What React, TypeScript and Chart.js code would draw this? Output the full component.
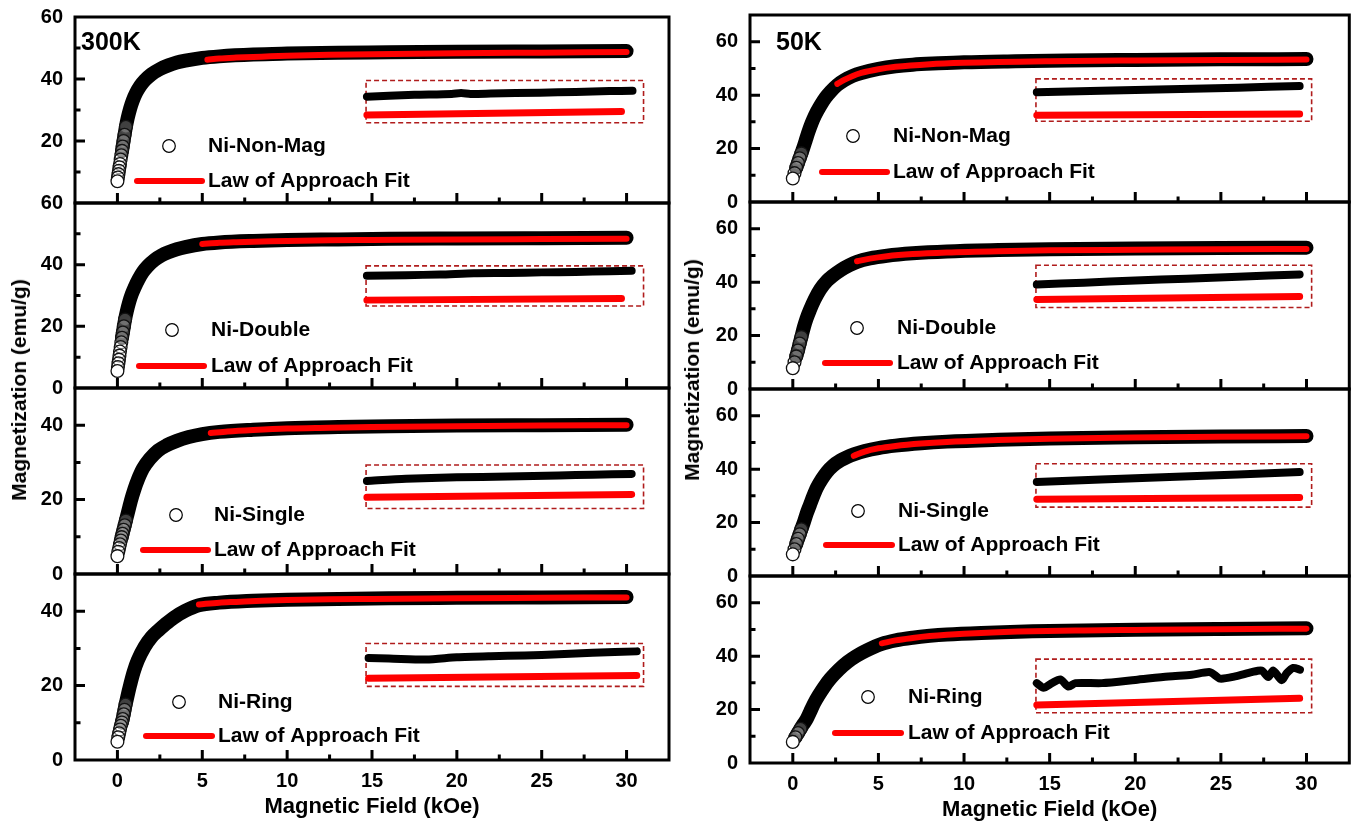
import React, { useEffect, useRef } from "react";
import { Chart, registerables } from "chart.js";
Chart.register(...registerables);

const FONT = "'Liberation Sans', Arial, Helvetica, sans-serif";

// ---------------- data ----------------
const X_MIN = -2.5;
const X_MAX = 32.5;
const X_TICKS = [0, 5, 10, 15, 20, 25, 30];
const X_MINOR = [2.5, 7.5, 12.5, 17.5, 22.5, 27.5];

// 300 K — Ni-Non-Mag
const L1_FIELD = [0, 0.03, 0.06, 0.09, 0.12, 0.15, 0.19, 0.23, 0.27, 0.31, 0.36, 0.42, 0.5, 0.6, 0.75, 0.9, 1.1, 1.35, 1.6, 2.0, 2.5, 3.0, 3.5, 4.0, 5.0, 6.0, 8.0, 10, 13, 16, 20, 25, 30];
const L1_M = [7, 8.2, 9.3, 10.4, 11.5, 12.6, 14, 15.4, 16.8, 18.2, 20, 22, 24.6, 27.3, 30.5, 33, 35.5, 37.8, 39.5, 41.5, 43.2, 44.4, 45.3, 45.9, 46.8, 47.3, 47.9, 48.2, 48.5, 48.6, 48.8, 48.9, 49.0];
const L1_FIT_FIELD = [5.3, 6, 7, 8.5, 10, 12.5, 15, 20, 25, 30];
const L1_FIT_M = [46.2, 46.6, 46.9, 47.2, 47.5, 47.8, 48.0, 48.3, 48.5, 48.7];
const L1_INSET_FIELD = [14.7, 16, 17.5, 19.7, 20.25, 20.8, 22, 24.9, 27, 29, 30.35];
const L1_INSET_M = [34.3, 34.6, 34.9, 35.2, 35.5, 35.2, 35.3, 35.6, 35.8, 36.1, 36.2];
const L1_INSET_FIT_FIELD = [14.7, 29.7];
const L1_INSET_FIT_M = [28.4, 29.5];
const L1_BOX = [14.65, 31.0, 25.9, 39.5];

// 300 K — Ni-Double
const L2_FIELD = [0, 0.03, 0.06, 0.09, 0.12, 0.15, 0.19, 0.23, 0.27, 0.32, 0.38, 0.45, 0.55, 0.7, 0.85, 1.0, 1.25, 1.5, 1.8, 2.2, 2.6, 3.0, 3.5, 4.0, 5.0, 6.0, 8.0, 10, 13, 16, 20, 25, 30];
const L2_M = [5.5, 6.8, 8.0, 9.2, 10.5, 11.8, 13.3, 14.8, 16.3, 18.0, 20.0, 22.2, 24.8, 28.0, 30.5, 32.5, 35.3, 37.6, 39.6, 41.6, 43.0, 44.0, 45.0, 45.7, 46.7, 47.2, 47.7, 48.0, 48.2, 48.4, 48.5, 48.6, 48.7];
const L2_FIT_FIELD = [5.0, 6, 7, 8.5, 10, 12.5, 15, 20, 25, 30];
const L2_FIT_M = [46.7, 47.1, 47.3, 47.5, 47.7, 47.9, 48.0, 48.2, 48.3, 48.4];
const L2_INSET_FIELD = [14.7, 17, 19, 21, 23, 25, 27, 29, 30.3];
const L2_INSET_M = [36.4, 36.6, 36.8, 37.2, 37.3, 37.5, 37.6, 37.9, 38.0];
const L2_INSET_FIT_FIELD = [14.7, 29.7];
const L2_INSET_FIT_M = [28.5, 29.0];
const L2_BOX = [14.65, 31.0, 26.6, 39.6];

// 300 K — Ni-Single
const L3_FIELD = [0, 0.05, 0.1, 0.15, 0.2, 0.25, 0.3, 0.36, 0.43, 0.5, 0.6, 0.7, 0.8, 1.0, 1.2, 1.5, 1.9, 2.4, 2.9, 3.5, 4.2, 5.0, 6.0, 8.0, 10, 13, 16, 20, 25, 30];
const L3_M = [4.8, 6.0, 7.0, 8.0, 9.0, 9.9, 10.8, 11.9, 13.1, 14.4, 16.2, 18.0, 19.8, 22.8, 25.3, 28.3, 30.9, 33.2, 34.6, 35.8, 36.8, 37.6, 38.2, 38.8, 39.2, 39.5, 39.7, 39.9, 40.0, 40.1];
const L3_FIT_FIELD = [5.5, 6.5, 8, 10, 12.5, 15, 20, 25, 30];
const L3_FIT_M = [37.9, 38.3, 38.7, 39.1, 39.3, 39.5, 39.7, 39.9, 40.0];
const L3_INSET_FIELD = [14.7, 17, 20, 23, 26, 28, 30.3];
const L3_INSET_M = [25.0, 25.6, 26.0, 26.2, 26.5, 26.7, 26.9];
const L3_INSET_FIT_FIELD = [14.7, 30.3];
const L3_INSET_FIT_M = [20.6, 21.4];
const L3_BOX = [14.65, 31.0, 17.6, 29.3];

// 300 K — Ni-Ring
const L4_FIELD = [0, 0.05, 0.1, 0.15, 0.2, 0.26, 0.31, 0.37, 0.42, 0.48, 0.55, 0.65, 0.75, 0.95, 1.2, 1.6, 2.0, 2.4, 2.8, 3.3, 4.0, 4.8, 6.0, 8.0, 10, 13, 16, 20, 25, 30];
const L4_M = [4.9, 6.1, 7.2, 8.2, 9.2, 10.1, 11.0, 12.3, 13.5, 14.9, 16.3, 18.3, 20.2, 23.6, 26.8, 30.4, 33.0, 34.8, 36.4, 38.2, 40.1, 41.6, 42.3, 42.8, 43.1, 43.3, 43.5, 43.6, 43.7, 43.8];
const L4_FIT_FIELD = [4.8, 6, 7, 8.5, 10, 12.5, 15, 20, 25, 30];
const L4_FIT_M = [41.8, 42.3, 42.5, 42.8, 43.0, 43.2, 43.3, 43.5, 43.6, 43.7];
const L4_INSET_FIELD = [14.8, 16, 18.2, 20, 22, 24, 26, 28, 30.6];
const L4_INSET_M = [27.4, 27.3, 27.0, 27.6, 27.9, 28.1, 28.4, 28.8, 29.2];
const L4_INSET_FIT_FIELD = [14.8, 30.6];
const L4_INSET_FIT_M = [22.0, 22.7];
const L4_BOX = [14.65, 31.0, 19.8, 31.3];

// 50 K — Ni-Non-Mag
const R1_FIELD = [0, 0.1, 0.2, 0.3, 0.4, 0.5, 0.6, 0.75, 0.9, 1.1, 1.3, 1.6, 1.9, 2.2, 2.6, 3.0, 3.5, 4.0, 5.0, 6.0, 7.0, 8.5, 10, 13, 16, 20, 25, 30];
const R1_M = [8.8, 10.8, 12.8, 14.6, 16.4, 18.2, 20, 23, 26, 29.5, 32.5, 36, 39, 41.3, 43.8, 45.6, 47.2, 48.3, 49.8, 50.8, 51.4, 51.9, 52.3, 52.7, 53.0, 53.2, 53.4, 53.5];
const R1_FIT_FIELD = [2.6, 3.0, 3.5, 4.0, 5.0, 6.0, 8.0, 10, 15, 20, 25, 30];
const R1_FIT_M = [44.2, 45.7, 47.2, 48.3, 49.7, 50.6, 51.6, 52.1, 52.7, 53.0, 53.2, 53.3];
const R1_INSET_FIELD = [14.25, 18, 22, 26, 29.6];
const R1_INSET_M = [41.1, 41.6, 42.2, 42.8, 43.4];
const R1_INSET_FIT_FIELD = [14.25, 29.6];
const R1_INSET_FIT_M = [32.5, 32.9];
const R1_BOX = [14.2, 30.3, 30.2, 46.1];

// 50 K — Ni-Double
const R2_FIELD = [0, 0.1, 0.2, 0.3, 0.4, 0.5, 0.65, 0.8, 1.0, 1.27, 1.6, 2.0, 2.3, 2.8, 3.3, 3.75, 4.5, 5.5, 7.0, 9.0, 12, 15, 20, 25, 30];
const R2_M = [7.8, 10.0, 12.2, 14.4, 17.0, 19.5, 23.2, 26.3, 29.6, 33.5, 37.3, 40.5, 42.2, 44.5, 46.3, 47.6, 48.9, 49.9, 50.8, 51.5, 52.0, 52.3, 52.6, 52.8, 52.9];
const R2_FIT_FIELD = [3.75, 4.5, 5.5, 7.0, 9.0, 12, 15, 20, 25, 30];
const R2_FIT_M = [47.8, 48.8, 49.7, 50.5, 51.1, 51.6, 51.9, 52.1, 52.3, 52.4];
const R2_INSET_FIELD = [14.25, 17, 20, 23, 26, 29.6];
const R2_INSET_M = [39.1, 39.8, 40.6, 41.3, 42.0, 42.9];
const R2_INSET_FIT_FIELD = [14.25, 29.6];
const R2_INSET_FIT_M = [33.5, 34.6];
const R2_BOX = [14.2, 30.3, 30.5, 46.3];

// 50 K — Ni-Single
const R3_FIELD = [0, 0.1, 0.2, 0.3, 0.4, 0.5, 0.64, 0.8, 1.0, 1.2, 1.4, 1.7, 2.0, 2.33, 2.8, 3.2, 3.6, 4.2, 5.0, 6.0, 7.5, 9.0, 12, 15, 20, 25, 30];
const R3_M = [8.1, 10.0, 12.0, 13.9, 15.6, 17.5, 20.0, 23.2, 26.6, 30.0, 33.0, 36.3, 39.0, 41.2, 43.3, 44.6, 45.6, 46.8, 47.9, 48.8, 49.7, 50.3, 51.0, 51.5, 51.9, 52.2, 52.4];
const R3_FIT_FIELD = [3.56, 4.2, 5.0, 6.0, 7.5, 9.0, 12, 15, 20, 25, 30];
const R3_FIT_M = [45.0, 46.6, 47.8, 48.7, 49.6, 50.2, 50.9, 51.4, 51.8, 52.1, 52.3];
const R3_INSET_FIELD = [14.25, 18, 22, 26, 29.6];
const R3_INSET_M = [35.2, 36.1, 37.1, 38.0, 38.9];
const R3_INSET_FIT_FIELD = [14.25, 29.6];
const R3_INSET_FIT_M = [28.7, 29.4];
const R3_BOX = [14.2, 30.3, 25.8, 42.0];

// 50 K — Ni-Ring
const R4_FIELD = [0, 0.15, 0.3, 0.45, 0.6, 0.8, 1.0, 1.25, 1.5, 1.8, 2.2, 2.7, 3.2, 3.7, 4.3, 5.2, 6.0, 7.0, 8.0, 9.0, 11, 14, 17, 20, 25, 30];
const R4_M = [7.9, 9.6, 11.2, 12.8, 14.4, 16.3, 19.0, 22.4, 25.2, 28.2, 31.6, 35.0, 37.8, 40.0, 42.1, 44.6, 45.9, 46.9, 47.6, 48.1, 48.7, 49.3, 49.6, 49.9, 50.2, 50.4];
const R4_FIT_FIELD = [5.2, 6, 7, 8, 9, 11, 14, 17, 20, 25, 30];
const R4_FIT_M = [44.8, 45.9, 46.8, 47.5, 48.0, 48.7, 49.3, 49.6, 49.8, 50.1, 50.3];
const R4_INSET_FIELD = [14.25, 14.64, 15.13, 15.62, 16.1, 16.5, 18.05, 20.0, 21.94, 23.3, 24.37, 24.95, 25.83, 26.8, 27.38, 27.77, 28.06, 28.55, 28.84, 29.23, 29.62];
const R4_INSET_M = [29.9, 28.2, 29.9, 31.3, 28.6, 29.9, 29.9, 31.1, 32.4, 33.0, 34.0, 31.6, 32.4, 34.0, 34.6, 32.2, 34.6, 31.0, 33.6, 35.6, 34.9];
const R4_INSET_FIT_FIELD = [14.25, 29.6];
const R4_INSET_FIT_M = [21.7, 24.2];
const R4_BOX = [14.2, 30.3, 18.8, 38.9];

const SAMPLE_NAMES = ["Ni-Non-Mag", "Ni-Double", "Ni-Single", "Ni-Ring"];
const FIT_NAME = "Law of Approach Fit";

// ---------------- layout ----------------
type Legend = { cx: number; cy: number; tx: number; lx1: number; lx2: number; ly: number };
type Spec = {
  canvasLeft: number; canvasWidth: number; areaLeft: number; areaRight: number;
  top: number; bottom: number; isBottom: boolean; yMax: number;
  yLabels: number[]; yMajor: number[]; yMinor: number[];
  field: number[]; m: number[]; fitField: number[]; fitM: number[];
  insetField: number[]; insetM: number[]; insetFitField: number[]; insetFitM: number[];
  box: number[]; name: string; legend: Legend; temp?: { text: string; dx: number; dy: number };
};

const LEFT = { canvasLeft: 0, canvasWidth: 680, areaLeft: 75, areaRight: 669 };
const RIGHT = { canvasLeft: 680, canvasWidth: 677, areaLeft: 750, areaRight: 1352 };

const SPECS: Spec[] = [
  { ...LEFT, top: 17, bottom: 203, isBottom: false, yMax: 60, yLabels: [20, 40, 60], yMajor: [20, 40], yMinor: [10, 30, 50],
    field: L1_FIELD, m: L1_M, fitField: L1_FIT_FIELD, fitM: L1_FIT_M, insetField: L1_INSET_FIELD, insetM: L1_INSET_M,
    insetFitField: L1_INSET_FIT_FIELD, insetFitM: L1_INSET_FIT_M, box: L1_BOX, name: SAMPLE_NAMES[0],
    legend: { cx: 94, cy: 129, tx: 133, lx1: 62, lx2: 127, ly: 164 }, temp: { text: "300K", dx: 6, dy: 26 } },
  { ...LEFT, top: 203, bottom: 388, isBottom: false, yMax: 60, yLabels: [0, 20, 40, 60], yMajor: [20, 40], yMinor: [10, 30, 50],
    field: L2_FIELD, m: L2_M, fitField: L2_FIT_FIELD, fitM: L2_FIT_M, insetField: L2_INSET_FIELD, insetM: L2_INSET_M,
    insetFitField: L2_INSET_FIT_FIELD, insetFitM: L2_INSET_FIT_M, box: L2_BOX, name: SAMPLE_NAMES[1],
    legend: { cx: 97, cy: 127, tx: 136, lx1: 64, lx2: 129, ly: 163 } },
  { ...LEFT, top: 388, bottom: 574, isBottom: false, yMax: 50, yLabels: [0, 20, 40], yMajor: [20, 40], yMinor: [10, 30],
    field: L3_FIELD, m: L3_M, fitField: L3_FIT_FIELD, fitM: L3_FIT_M, insetField: L3_INSET_FIELD, insetM: L3_INSET_M,
    insetFitField: L3_INSET_FIT_FIELD, insetFitM: L3_INSET_FIT_M, box: L3_BOX, name: SAMPLE_NAMES[2],
    legend: { cx: 101, cy: 127, tx: 139, lx1: 68, lx2: 133, ly: 162 } },
  { ...LEFT, top: 574, bottom: 760, isBottom: true, yMax: 50, yLabels: [0, 20, 40], yMajor: [20, 40], yMinor: [10, 30],
    field: L4_FIELD, m: L4_M, fitField: L4_FIT_FIELD, fitM: L4_FIT_M, insetField: L4_INSET_FIELD, insetM: L4_INSET_M,
    insetFitField: L4_INSET_FIT_FIELD, insetFitM: L4_INSET_FIT_M, box: L4_BOX, name: SAMPLE_NAMES[3],
    legend: { cx: 104, cy: 128, tx: 143, lx1: 71, lx2: 137, ly: 162 } },
  { ...RIGHT, top: 15, bottom: 202, isBottom: false, yMax: 70, yLabels: [0, 20, 40, 60], yMajor: [20, 40, 60], yMinor: [10, 30, 50],
    field: R1_FIELD, m: R1_M, fitField: R1_FIT_FIELD, fitM: R1_FIT_M, insetField: R1_INSET_FIELD, insetM: R1_INSET_M,
    insetFitField: R1_INSET_FIT_FIELD, insetFitM: R1_INSET_FIT_M, box: R1_BOX, name: SAMPLE_NAMES[0],
    legend: { cx: 103, cy: 121, tx: 143, lx1: 72, lx2: 137, ly: 157 }, temp: { text: "50K", dx: 26, dy: 28 } },
  { ...RIGHT, top: 202, bottom: 389, isBottom: false, yMax: 70, yLabels: [0, 20, 40, 60], yMajor: [20, 40, 60], yMinor: [10, 30, 50],
    field: R2_FIELD, m: R2_M, fitField: R2_FIT_FIELD, fitM: R2_FIT_M, insetField: R2_INSET_FIELD, insetM: R2_INSET_M,
    insetFitField: R2_INSET_FIT_FIELD, insetFitM: R2_INSET_FIT_M, box: R2_BOX, name: SAMPLE_NAMES[1],
    legend: { cx: 107, cy: 126, tx: 147, lx1: 75, lx2: 140, ly: 161 } },
  { ...RIGHT, top: 389, bottom: 576, isBottom: false, yMax: 70, yLabels: [0, 20, 40, 60], yMajor: [20, 40, 60], yMinor: [10, 30, 50],
    field: R3_FIELD, m: R3_M, fitField: R3_FIT_FIELD, fitM: R3_FIT_M, insetField: R3_INSET_FIELD, insetM: R3_INSET_M,
    insetFitField: R3_INSET_FIT_FIELD, insetFitM: R3_INSET_FIT_M, box: R3_BOX, name: SAMPLE_NAMES[2],
    legend: { cx: 108, cy: 122, tx: 148, lx1: 76, lx2: 142, ly: 156 } },
  { ...RIGHT, top: 576, bottom: 763, isBottom: true, yMax: 70, yLabels: [0, 20, 40, 60], yMajor: [20, 40, 60], yMinor: [10, 30, 50],
    field: R4_FIELD, m: R4_M, fitField: R4_FIT_FIELD, fitM: R4_FIT_M, insetField: R4_INSET_FIELD, insetM: R4_INSET_M,
    insetFitField: R4_INSET_FIT_FIELD, insetFitM: R4_INSET_FIT_M, box: R4_BOX, name: SAMPLE_NAMES[3],
    legend: { cx: 118, cy: 121, tx: 158, lx1: 85, lx2: 151, ly: 157 } },
];

const PAD = 30;
const XAXIS_H = 63;
const CIRCLE_FIELD_MAX = 0.5;

function pts(xs: number[], ys: number[]) {
  return xs.map((x, i) => ({ x, y: ys[i] }));
}

function Panel({ s }: { s: Spec }) {
  const ref = useRef<HTMLCanvasElement>(null);
  const canvasTop = s.top - PAD;
  const height = s.bottom - s.top + PAD + (s.isBottom ? XAXIS_H : PAD);
  const padRight = s.canvasLeft + s.canvasWidth - s.areaRight;

  useEffect(() => {
    const main = pts(s.field, s.m);
    const circles = main.filter((p) => p.x <= CIRCLE_FIELD_MAX).reverse();
    const bandStart = main.filter((p) => p.x <= CIRCLE_FIELD_MAX * 0.55).length;
    const band = main.slice(Math.max(bandStart - 1, 0));
    const tickFont = { family: FONT, size: 20, weight: "bold" as const };

    const deco = {
      id: "deco",
      beforeDatasetsDraw(chart: any) {
        const { ctx } = chart;
        const xs = chart.scales.x, ys = chart.scales.y;
        const [h0, h1, m0, m1] = s.box;
        const px0 = xs.getPixelForValue(h0), px1 = xs.getPixelForValue(h1);
        const py0 = ys.getPixelForValue(m1), py1 = ys.getPixelForValue(m0);
        ctx.save();
        ctx.strokeStyle = "#b01c1c";
        ctx.lineWidth = 1.6;
        ctx.setLineDash([5, 3]);
        ctx.strokeRect(px0, py0, px1 - px0, py1 - py0);
        ctx.restore();
      },
      afterDatasetsDraw(chart: any) {
        const { ctx, chartArea: a } = chart;
        const xs = chart.scales.x, ys = chart.scales.y;
        ctx.save();
        ctx.strokeStyle = "#000";
        ctx.lineWidth = 3;
        ctx.lineCap = "butt";
        ctx.beginPath();
        X_TICKS.forEach((v) => { const px = xs.getPixelForValue(v); ctx.moveTo(px, a.bottom); ctx.lineTo(px, a.bottom - 10); });
        X_MINOR.forEach((v) => { const px = xs.getPixelForValue(v); ctx.moveTo(px, a.bottom); ctx.lineTo(px, a.bottom - 5.5); });
        s.yMajor.forEach((v) => { const py = ys.getPixelForValue(v); ctx.moveTo(a.left, py); ctx.lineTo(a.left + 10, py); });
        s.yMinor.forEach((v) => { const py = ys.getPixelForValue(v); ctx.moveTo(a.left, py); ctx.lineTo(a.left + 5.5, py); });
        ctx.stroke();
        ctx.strokeRect(a.left, a.top, a.right - a.left, a.bottom - a.top);

        // legend
        const lg = s.legend;
        ctx.beginPath();
        ctx.arc(a.left + lg.cx, a.top + lg.cy, 6.3, 0, Math.PI * 2);
        ctx.fillStyle = "#fff";
        ctx.fill();
        ctx.lineWidth = 1.2;
        ctx.strokeStyle = "#000";
        ctx.stroke();
        ctx.beginPath();
        ctx.moveTo(a.left + lg.lx1, a.top + lg.ly);
        ctx.lineTo(a.left + lg.lx2, a.top + lg.ly);
        ctx.lineWidth = 6;
        ctx.lineCap = "round";
        ctx.strokeStyle = "#ff0000";
        ctx.stroke();
        ctx.fillStyle = "#000";
        ctx.font = `bold 21px ${FONT}`;
        ctx.textAlign = "left";
        ctx.textBaseline = "middle";
        ctx.fillText(s.name, a.left + lg.tx, a.top + lg.cy);
        ctx.fillText(FIT_NAME, a.left + lg.tx, a.top + lg.ly);
        if (s.temp) {
          ctx.font = `bold 25px ${FONT}`;
          ctx.fillText(s.temp.text, a.left + s.temp.dx, a.top + s.temp.dy);
        }
        ctx.restore();
      },
    };

    const chart = new Chart(ref.current as HTMLCanvasElement, {
      type: "line",
      data: {
        datasets: [
          { data: band, borderColor: "#000", borderWidth: 14, pointRadius: 0, borderCapStyle: "round", borderJoinStyle: "round",
            cubicInterpolationMode: "monotone", fill: false, order: 3 } as any,
          { data: circles, showLine: false, pointRadius: 6.4, pointBorderWidth: 1.3, pointBorderColor: "#111",
            pointBackgroundColor: (c: any) => (c.raw && c.raw.x === 0 ? "#fff" : "rgba(255,255,255,0.25)"), order: 2 } as any,
          { data: pts(s.fitField, s.fitM), borderColor: "#ff0000", borderWidth: 6, pointRadius: 0, borderCapStyle: "round",
            cubicInterpolationMode: "monotone", fill: false, order: 1 } as any,
          { data: pts(s.insetField, s.insetM), borderColor: "#000", borderWidth: 8, pointRadius: 0, borderCapStyle: "round",
            borderJoinStyle: "round", tension: 0.25, fill: false, order: 1 } as any,
          { data: pts(s.insetFitField, s.insetFitM), borderColor: "#ff0000", borderWidth: 7, pointRadius: 0, borderCapStyle: "round",
            fill: false, order: 1 } as any,
        ],
      },
      options: {
        responsive: false,
        maintainAspectRatio: false,
        animation: false,
        devicePixelRatio: 1,
        events: [],
        layout: { padding: { top: PAD, right: padRight, bottom: s.isBottom ? 0 : PAD, left: 0 } },
        plugins: { legend: { display: false }, tooltip: { enabled: false }, title: { display: false } },
        scales: {
          x: {
            type: "linear", min: X_MIN, max: X_MAX, display: s.isBottom,
            afterBuildTicks: (sc: any) => { sc.ticks = X_TICKS.map((v) => ({ value: v })); },
            afterFit: (sc: any) => { if (s.isBottom) sc.height = XAXIS_H; },
            grid: { display: false, drawTicks: false },
            border: { display: false },
            ticks: { color: "#000", font: tickFont, padding: 9, maxRotation: 0, autoSkip: false },
            title: { display: true, text: "Magnetic Field (kOe)", color: "#000",
              font: { family: FONT, size: 22, weight: "bold" }, padding: { top: 0, bottom: 3 } },
          },
          y: {
            type: "linear", min: 0, max: s.yMax, position: "left",
            afterBuildTicks: (sc: any) => { sc.ticks = s.yLabels.map((v) => ({ value: v })); },
            afterFit: (sc: any) => { sc.width = s.areaLeft - s.canvasLeft; },
            grid: { display: false, drawTicks: false },
            border: { display: false },
            ticks: { color: "#000", font: tickFont, padding: 12, autoSkip: false },
          },
        },
      } as any,
      plugins: [deco],
    });
    return () => chart.destroy();
  }, []);

  return (
    <canvas
      ref={ref}
      width={s.canvasWidth}
      height={height}
      style={{ position: "absolute", left: s.canvasLeft, top: canvasTop, width: s.canvasWidth, height, display: "block" }}
    />
  );
}

const yTitleStyle = (cx: number, cy: number): React.CSSProperties => ({
  position: "absolute",
  left: cx,
  top: cy,
  transform: "translate(-50%, -50%) rotate(-90deg)",
  whiteSpace: "nowrap",
  font: `bold 21px ${FONT}`,
  color: "#000",
  lineHeight: "24px",
});

export default function App() {
  return (
    <div style={{ position: "absolute", left: 0, top: 0, width: 1357, height: 823, background: "#fff", overflow: "hidden" }}>
      {SPECS.map((s, i) => (
        <Panel key={i} s={s} />
      ))}
      <div style={yTitleStyle(19, 390)}>Magnetization (emu/g)</div>
      <div style={yTitleStyle(692, 370)}>Magnetization (emu/g)</div>
    </div>
  );
}
